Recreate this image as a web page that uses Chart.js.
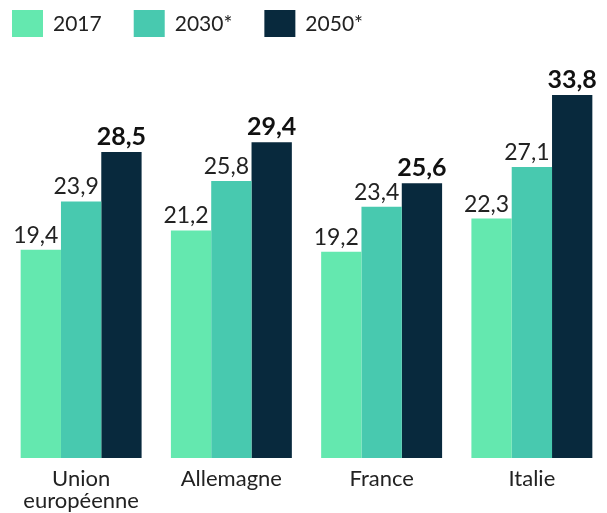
<!DOCTYPE html>
<html>
<head>
<meta charset="utf-8">
<script src="https://cdn.jsdelivr.net/npm/chart.js@4"></script>
<style>
html,body{margin:0;padding:0;background:#fff;}
#wrap{width:607px;height:513px;}
</style>
</head>
<body>
<div id="wrap"><canvas id="c" width="607" height="513"></canvas></div>
<script>
const categories = [["Union", "européenne"], "Allemagne", "France", "Italie"];
const seriesNames = ["2017", "2030*", "2050*"];
const values2017 = [19.4, 21.2, 19.2, 22.3];
const values2030 = [23.9, 25.8, 23.4, 27.1];
const values2050 = [28.5, 29.4, 25.6, 33.8];
const colors = ["#64E8AF", "#48C9AF", "#08293D"];

const fmt = v => v.toFixed(1).replace('.', ',');

const valueLabels = {
  id: 'valueLabels',
  afterDatasetsDraw(chart) {
    const ctx = chart.ctx;
    ctx.save();
    ctx.textAlign = 'center';
    ctx.textBaseline = 'alphabetic';
    chart.data.datasets.forEach((ds, di) => {
      const meta = chart.getDatasetMeta(di);
      const bold = di === 2;
      ctx.font = bold ? 'bold 25px Lato' : '23px Lato';
      ctx.fillStyle = bold ? '#111' : '#222';
      meta.data.forEach((bar, i) => {
        const dx = bold ? 0 : -5;
        ctx.fillText(fmt(ds.data[i]), bar.x + dx, bar.y - 7);
      });
    });
    ctx.restore();
  }
};

const customLegend = {
  id: 'customLegend',
  afterDraw(chart) {
    const ctx = chart.ctx;
    ctx.save();
    ctx.font = '21px Lato';
    ctx.textBaseline = 'middle';
    ctx.textAlign = 'left';
    let x = 12;
    const y = 10, bw = 31, bh = 27;
    chart.data.datasets.forEach((ds) => {
      ctx.fillStyle = ds.backgroundColor;
      ctx.fillRect(x, y, bw, bh);
      ctx.fillStyle = '#222';
      const tx = x + bw + 10;
      ctx.fillText(ds.label, tx, y + bh / 2 + 1);
      x = tx + ctx.measureText(ds.label).width + 32;
    });
    ctx.restore();
  }
};

new Chart(document.getElementById('c'), {
  type: 'bar',
  data: {
    labels: categories,
    datasets: [
      { label: seriesNames[0], data: values2017, backgroundColor: colors[0] },
      { label: seriesNames[1], data: values2030, backgroundColor: colors[1] },
      { label: seriesNames[2], data: values2050, backgroundColor: colors[2] }
    ]
  },
  options: {
    responsive: false,
    animation: false,
    layout: { padding: { left: 6, right: 0, top: 50, bottom: -9 } },
    datasets: { bar: { categoryPercentage: 0.805, barPercentage: 1.0 } },
    plugins: {
      legend: { display: false },
      tooltip: { enabled: false }
    },
    scales: {
      x: {
        grid: { display: false, drawTicks: false },
        border: { display: false },
        ticks: { color: '#222', font: { family: 'Lato', size: 22, lineHeight: 1.0 }, padding: 10, maxRotation: 0 }
      },
      y: {
        display: false,
        min: 0,
        max: 38
      }
    }
  },
  plugins: [valueLabels, customLegend]
});
</script>
</body>
</html>
